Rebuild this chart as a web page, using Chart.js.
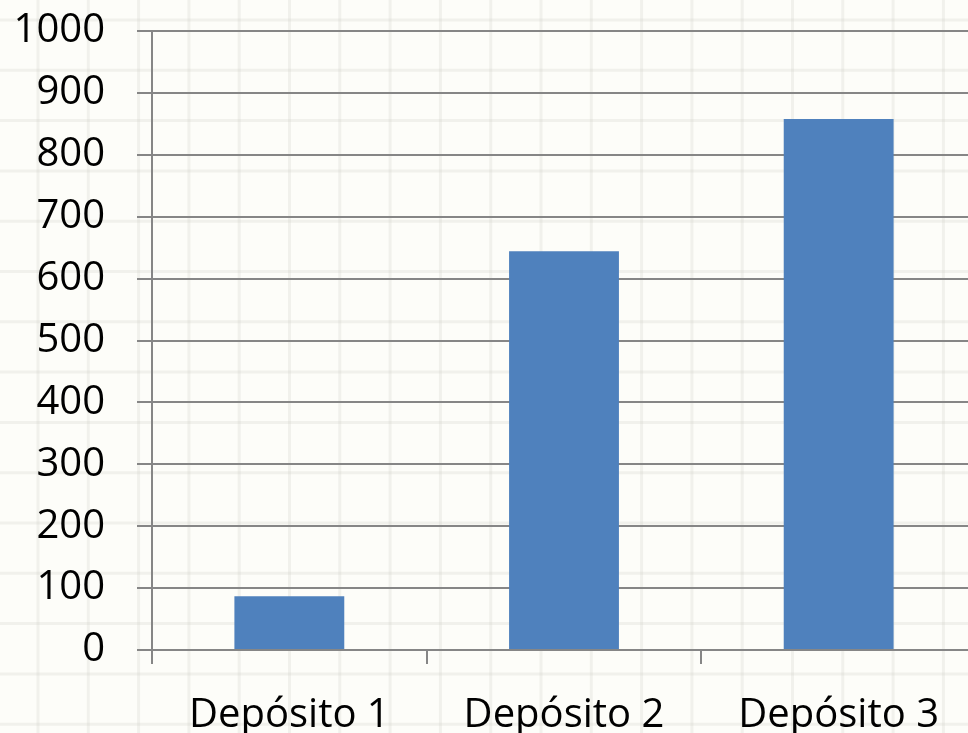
<!DOCTYPE html>
<html>
<head>
<meta charset="utf-8">
<script src="https://cdn.jsdelivr.net/npm/chart.js@4/dist/chart.umd.min.js"></script>
<style>
  html, body { margin: 0; padding: 0; overflow: hidden; background: #fdfdf9; }
  #wrap { width: 968px; height: 733px; overflow: hidden; }
</style>
</head>
<body>
<div id="wrap"><canvas id="c" width="976" height="733"></canvas></div>
<script>
const categories = ['Depósito 1', 'Depósito 2', 'Depósito 3'];
const volumes = [87, 644, 858];
const yMin = 0;
const yMax = 1000;
const yStep = 100;

// Squared-paper backdrop behind the chart
const paperGrid = {
  id: 'paperGrid',
  beforeDraw(chart) {
    const ctx = chart.ctx;
    const w = chart.width, h = chart.height;
    ctx.save();
    ctx.fillStyle = '#fdfdf9';
    ctx.fillRect(0, 0, w, h);
    ctx.strokeStyle = 'rgba(200,200,190,0.22)';
    ctx.lineWidth = 3;
    const step = 50.3;
    for (let x = 38; x < w; x += step) {
      ctx.beginPath(); ctx.moveTo(x, 0); ctx.lineTo(x, h); ctx.stroke();
    }
    for (let y = 20; y < h; y += step) {
      ctx.beginPath(); ctx.moveTo(0, y); ctx.lineTo(w, y); ctx.stroke();
    }
    ctx.restore();
  }
};

const font = { family: "'Open Sans', sans-serif", size: 40 };

new Chart(document.getElementById('c'), {
  type: 'bar',
  data: {
    labels: categories,
    datasets: [{
      data: volumes,
      backgroundColor: '#4f81bd',
      borderWidth: 0,
      categoryPercentage: 1,
      barPercentage: 0.4
    }]
  },
  options: {
    responsive: false,
    animation: false,
    layout: { padding: { top: 31, left: 0, right: 0, bottom: 0 } },
    plugins: { legend: { display: false }, tooltip: { enabled: false } },
    scales: {
      x: {
        grid: {
          drawOnChartArea: false,
          drawTicks: true,
          tickLength: 14,
          color: '#868686',
          lineWidth: 2,
          offset: true
        },
        border: { display: true, color: '#868686', width: 2 },
        ticks: { color: '#000', font: font, padding: 28, maxRotation: 0 },
        afterFit(scale) { scale.height = 83; }
      },
      y: {
        min: yMin,
        max: yMax,
        grid: {
          color: '#868686',
          lineWidth: 2,
          tickLength: 15
        },
        border: { display: true, color: '#868686', width: 2 },
        ticks: {
          stepSize: yStep,
          color: '#000',
          font: font,
          padding: 32,
          callback: (v) => String(v)
        },
        afterFit(scale) {
          scale.width = 152;
          scale.paddingTop = 0;
          scale.paddingBottom = 0;
        }
      }
    }
  },
  plugins: [paperGrid]
});
</script>
</body>
</html>
